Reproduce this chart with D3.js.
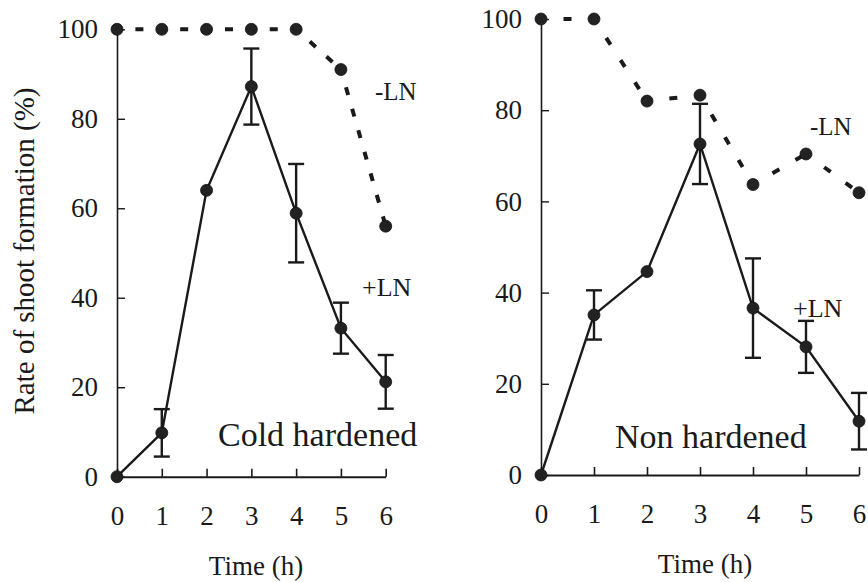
<!DOCTYPE html>
<html>
<head>
<meta charset="utf-8">
<script src="https://cdn.jsdelivr.net/npm/d3@7"></script>
<style>
  html, body { margin: 0; padding: 0; background: #fff; }
  svg { display: block; }
</style>
</head>
<body>
<svg width="868" height="582"></svg>
<script>
// tempo (h) e valores
const hours = [0, 1, 2, 3, 4, 5, 6];
const yTicks = [0, 20, 40, 60, 80, 100];

// Cold hardened
const coldMinusLN = [100, 100, 100, 100, 100, 91, 56];
const coldPlusLN  = [0, 9.8, 64, 87.2, 58.9, 33.2, 21.2];
const coldPlusErr = [null, 5.3, null, 8.5, 11, 5.7, 6];

// Non hardened
const nonMinusLN = [100, 100, 82, 83.3, 63.7, 70.4, 61.9];
const nonPlusLN  = [0, 35.1, 44.6, 72.6, 36.6, 28.1, 11.8];
const nonPlusErr = [null, 5.4, null, 8.8, 10.9, 5.7, 6.2];

const FONT = "'Liberation Serif', 'Times New Roman', serif";
const INK = "#1a1a1a";

const svg = d3.select("svg");
svg.append("rect").attr("width", 868).attr("height", 582).attr("fill", "#fff");

const panels = [
  {
    xr: [117, 385.7], yr: [476.7, 29.3],
    minus: coldMinusLN, plus: coldPlusLN, err: coldPlusErr,
    title: "Cold hardened", titlePos: [218, 446],
    minusLab: [375, 100], plusLab: [362, 296],
    timePos: [256, 575]
  },
  {
    xr: [541, 859], yr: [475, 19],
    minus: nonMinusLN, plus: nonPlusLN, err: nonPlusErr,
    title: "Non hardened", titlePos: [615, 448],
    minusLab: [810, 135], plusLab: [793, 317],
    timePos: [705, 573]
  }
];

function drawPanel(p) {
  const x = d3.scaleLinear().domain([0, 6]).range(p.xr);
  const y = d3.scaleLinear().domain([0, 100]).range(p.yr);
  const g = svg.append("g");

  // eixos
  const ax = g.append("g")
    .attr("transform", `translate(0,${p.yr[0]})`)
    .call(d3.axisBottom(x).tickValues(hours).tickFormat(d3.format("d"))
      .tickSizeInner(-8).tickSizeOuter(0).tickPadding(29));
  ax.select(".domain").attr("stroke", INK).attr("stroke-width", 2);
  ax.selectAll(".tick line").attr("stroke", INK).attr("stroke-width", 1.6);

  const ay = g.append("g")
    .attr("transform", `translate(${p.xr[0]},0)`)
    .call(d3.axisLeft(y).tickValues(yTicks).tickFormat(d3.format("d"))
      .tickSizeInner(-8).tickSizeOuter(0).tickPadding(19));
  ay.select(".domain").attr("stroke", INK).attr("stroke-width", 1.6);
  ay.selectAll(".tick line").attr("stroke", INK).attr("stroke-width", 1.4);

  g.selectAll(".tick text")
    .attr("font-family", FONT)
    .style("font-size", "27px")
    .attr("fill", INK);

  // +LN linha sólida
  const line = d3.line().x((d, i) => x(hours[i])).y(d => y(d));
  g.append("path")
    .datum(p.plus)
    .attr("fill", "none")
    .attr("stroke", INK)
    .attr("stroke-width", 2.4)
    .attr("d", line);

  // barras de erro
  const errData = p.plus.map((v, i) => ({ h: hours[i], v, e: p.err[i] })).filter(d => d.e != null);
  const eb = g.selectAll(".err").data(errData).enter().append("g")
    .attr("stroke", INK).attr("stroke-width", 2.4);
  eb.append("line")
    .attr("x1", d => x(d.h)).attr("x2", d => x(d.h))
    .attr("y1", d => y(d.v + d.e)).attr("y2", d => y(d.v - d.e));
  eb.append("line")
    .attr("x1", d => x(d.h) - 8).attr("x2", d => x(d.h) + 8)
    .attr("y1", d => y(d.v + d.e)).attr("y2", d => y(d.v + d.e));
  eb.append("line")
    .attr("x1", d => x(d.h) - 8).attr("x2", d => x(d.h) + 8)
    .attr("y1", d => y(d.v - d.e)).attr("y2", d => y(d.v - d.e));

  // -LN tracejada, um segmento por vez
  const half = (x(1) - x(0)) / 2;
  const segs = d3.pairs(p.minus.map((v, i) => [x(hours[i]), y(v)]));
  g.selectAll(".seg").data(segs).enter().append("path")
    .attr("fill", "none")
    .attr("stroke", INK)
    .attr("stroke-width", 4)
    .attr("stroke-dasharray", `8,${half - 8}`)
    .attr("stroke-dashoffset", 4)
    .attr("d", d => d3.line()(d));

  // marcadores
  const dots = p.minus.map((v, i) => [hours[i], v]).concat(p.plus.map((v, i) => [hours[i], v]));
  g.selectAll(".dot").data(dots).enter().append("circle")
    .attr("cx", d => x(d[0]))
    .attr("cy", d => y(d[1]))
    .attr("r", 6)
    .attr("fill", "#222")
    .attr("stroke", "#111")
    .attr("stroke-width", 0.8);

  // rótulos
  const txt = (pos, s, size) => g.append("text")
    .attr("x", pos[0]).attr("y", pos[1])
    .attr("font-family", FONT)
    .style("font-size", size)
    .attr("fill", INK)
    .text(s);
  txt(p.minusLab, "-LN", "25px");
  txt(p.plusLab, "+LN", "26px");
  txt(p.titlePos, p.title, "34px");
  txt(p.timePos, "Time (h)", "27px").attr("text-anchor", "middle");
}

panels.forEach(drawPanel);

// título do eixo y
svg.append("text")
  .attr("transform", "translate(34,251) rotate(-90)")
  .attr("text-anchor", "middle")
  .attr("font-family", FONT)
  .style("font-size", "29px")
  .attr("fill", INK)
  .text("Rate of shoot formation (%)");
</script>
</body>
</html>
